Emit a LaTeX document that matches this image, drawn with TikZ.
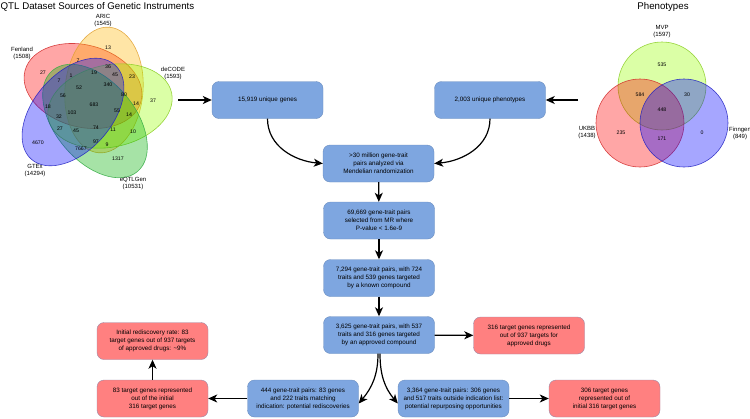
\documentclass[tikz,border=0pt]{standalone}
\usepackage{fontspec}
\setmainfont{Liberation Sans}
\usetikzlibrary{arrows.meta,positioning}

\definecolor{boxblue}{HTML}{7EA6E0}
\definecolor{boxred}{HTML}{FF8080}
\definecolor{blueline}{HTML}{6C8EBF}
\definecolor{redline}{HTML}{9A8AA8}
\definecolor{fenfill}{HTML}{FF0000}
\definecolor{fenline}{HTML}{D02828}
\definecolor{aricfill}{HTML}{FFB400}
\definecolor{aricline}{HTML}{E0A030}
\definecolor{decfill}{HTML}{99FF00}
\definecolor{decline}{HTML}{88CC22}
\definecolor{eqtlfill}{HTML}{00B000}
\definecolor{eqtlline}{HTML}{33AA44}
\definecolor{gtexfill}{HTML}{0000FF}
\definecolor{gtexline}{HTML}{2020C0}

\begin{document}
\begin{tikzpicture}[
  x=1pt, y=-1pt,
  font=\fontsize{6.3}{8}\selectfont,
  bluebox/.style={draw=blueline, fill=boxblue, rounded corners=7pt, align=center, minimum width=111pt, minimum height=37pt, inner sep=2pt},
  redbox/.style={bluebox, draw=redline, fill=boxred},
  arr/.style={-{Stealth[length=9pt,width=8pt,inset=2.5pt]}, line width=1.2pt},
  vnum/.style={font=\fontsize{5.2}{6}\selectfont, inner sep=0pt},
  vname/.style={font=\fontsize{6}{7}\selectfont, align=center, inner sep=0pt},
  ttl/.style={font=\fontsize{9.7}{11}\selectfont, inner sep=0pt},
  vset/.style={fill opacity=0.35, draw opacity=0.85, line width=0.6pt}
]
\useasboundingbox (0,0) rectangle (750,418);

% titles
\node[ttl, anchor=west] (qtltitle) at (0.5,7) {QTL Dataset Sources of Genetic Instruments};
\node[ttl] (phetitle) at (663,7) {Phenotypes};

% QTL venn
\draw[vset, fill=fenfill, draw=fenline, rotate around={165:(83,86)}] (83,86) ellipse [x radius=60pt, y radius=41pt];
\draw[vset, fill=aricfill, draw=aricline, rotate around={85:(104,90)}] (104,90) ellipse [x radius=63pt, y radius=39pt];
\draw[vset, fill=decfill, draw=decline, rotate around={12:(110,106)}] (110,106) ellipse [x radius=63pt, y radius=41pt];
\draw[vset, fill=eqtlfill, draw=eqtlline, rotate around={-50:(95,121)}] (95,121) ellipse [x radius=66pt, y radius=40pt];
\draw[vset, fill=gtexfill, draw=gtexline, rotate around={48.5:(73,112)}] (73,112) ellipse [x radius=63pt, y radius=39pt];

\node[vname] (fenland) at (22,53.5) {Fenland\\(1508)};
\node[vname] (aric) at (103,20.5) {ARIC\\(1545)};
\node[vname] (decode) at (173,73.5) {deCODE\\(1593)};
\node[vname] (gtex) at (35,171) {GTEx\\(14294)};
\node[vname] (eqtlgen) at (133,183.5) {eQTLGen\\(10531)};

\node[vnum] (v1) at (108,48) {13};   \node[vnum] (v2) at (78,61) {7};     \node[vnum] (v3) at (43,73) {27};
\node[vnum] (v4) at (108,67) {36};   \node[vnum] (v5) at (115,75) {45};   \node[vnum] (v6) at (132,77) {23};
\node[vnum] (v7) at (94,73) {19};    \node[vnum] (v8) at (59,81) {7};     \node[vnum] (v9) at (71,76) {1};
\node[vnum] (v10) at (108,85) {340}; \node[vnum] (v11) at (79,88) {52};   \node[vnum] (v12) at (153,101) {37};
\node[vnum] (v13) at (63,96) {56};   \node[vnum] (v14) at (124,95) {80};  \node[vnum] (v15) at (136,104) {14};
\node[vnum] (v16) at (94,105) {683}; \node[vnum] (v17) at (48,107) {18};  \node[vnum] (v18) at (72,113) {103};
\node[vnum] (v19) at (117,111) {55}; \node[vnum] (v20) at (129,115) {14}; \node[vnum] (v21) at (59,117) {32};
\node[vnum] (v22) at (60,129) {27};  \node[vnum] (v23) at (76,131) {45};  \node[vnum] (v24) at (96,128) {74};
\node[vnum] (v25) at (113,130) {11}; \node[vnum] (v26) at (133,132) {10}; \node[vnum] (v27) at (38,143) {4670};
\node[vnum] (v28) at (96,142) {97};  \node[vnum] (v29) at (81,149) {7667}; \node[vnum] (v30) at (107,145) {9};
\node[vnum] (v31) at (118,159) {1317};

% phenotype venn
\draw[vset, fill=decfill, draw=decline] (662,86) circle [radius=44pt];
\draw[vset, fill=fenfill, draw=fenline] (640,123) circle [radius=44pt];
\draw[vset, fill=gtexfill, draw=gtexline] (684,123) circle [radius=44pt];

\node[vname] (mvp) at (662,32) {MVP\\(1597)};
\node[vname] (ukbb) at (587,133) {UKBB\\(1438)};
\node[vname] (finngen) at (740,133) {Finngen\\(849)};

\node[vnum] (p1) at (662,65) {535};  \node[vnum] (p2) at (640,95) {584};  \node[vnum] (p3) at (687,95) {30};
\node[vnum] (p4) at (662,110) {448}; \node[vnum] (p5) at (621,133) {235}; \node[vnum] (p6) at (662,139) {171};
\node[vnum] (p7) at (702,133) {0};

% flow boxes
\node[bluebox] (genes) at (267.5,100) {15,919 unique genes};
\node[bluebox] (phenos) at (490,100) {2,003 unique phenotypes};
\node[bluebox] (mr) at (378.5,163.5) {>30 million gene-trait\\pairs analyzed via\\Mendelian randomization};
\node[bluebox] (sig) at (379,220.5) {69,669 gene-trait pairs\\selected from MR where\\P-value < 1.6e-9};
\node[bluebox] (known) at (379,278) {7,294 gene-trait pairs, with 724\\traits and 539 genes targeted\\by a known compound};
\node[bluebox] (approved) at (379,335) {3,625 gene-trait pairs, with 537\\traits and 316 genes targeted\\by an approved compound};
\node[redbox] (appr316) at (529,335.5) {316 target genes represented\\out of 937 targets for\\approved drugs};
\node[bluebox] (redisc) at (303,398.5) {444 gene-trait pairs: 83 genes\\and 222 traits matching\\indication: potential rediscoveries};
\node[bluebox] (repurp) at (453.5,398.5) {3,364 gene-trait pairs: 306 genes\\and 517 traits outside indication list:\\potential repurposing opportunities};
\node[redbox] (redisc83) at (152.5,398.5) {83 target genes represented\\out of the initial\\316 target genes};
\node[redbox] (rate) at (152.5,341) {Initial rediscovery rate: 83\\target genes out of 937 targets\\of approved drugs: \textasciitilde9\%};
\node[redbox] (repurp306) at (604.5,398.5) {306 target genes\\represented out of\\initial 316 target genes};

\coordinate (qtlout) at (178,100);
\coordinate (pheout) at (578,100);

\draw[arr] (qtlout) -- (genes);
\draw[arr] (pheout) -- (phenos);
\draw[arr] (genes.south) to[out=-90, in=175] (mr.west);
\draw[arr] (phenos.south) to[out=-90, in=5] (mr.east);
\draw[arr] (mr) -- (sig); \draw[arr] (sig) -- (known); \draw[arr] (known) -- (approved);
\draw[arr] (approved) -- (appr316);
\draw[arr] ([xshift=-1pt]approved.south) to[out=-90, in=50] ([yshift=-5pt]redisc.east);
\draw[arr] ([xshift=1pt]approved.south) to[out=-90, in=130] ([yshift=-5pt]repurp.west);
\draw[arr] (redisc) -- (redisc83);
\draw[arr] (redisc83) -- (rate);
\draw[arr] (repurp) -- (repurp306);
\end{tikzpicture}
\end{document}
